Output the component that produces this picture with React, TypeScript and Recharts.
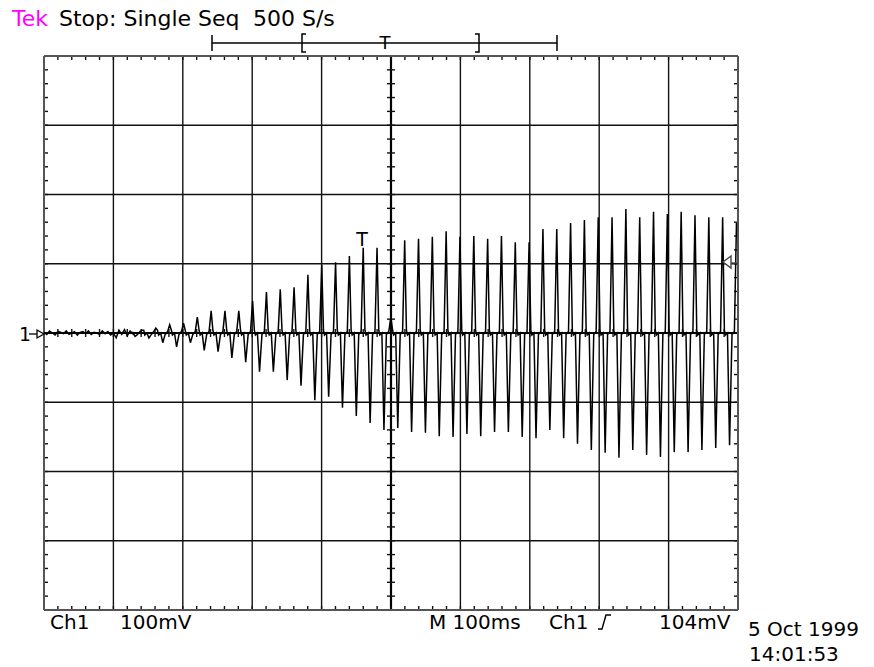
import React from 'react';
import { LineChart, Line, XAxis, YAxis, ReferenceLine } from 'recharts';

// ---- data ----
// time axis: 0..1000 ms (M 100ms/div, 10 div); vertical: mV (Ch1 100mV/div, 8 div)
const X_DIV_TICKS = [0, 100, 200, 300, 400, 500, 600, 700, 800, 900, 1000];
const Y_DIV_TICKS = [-400, -300, -200, -100, 0, 100, 200, 300, 400];

// baseline noise before the pulse train, one value every NOISE_STEP_MS
const NOISE_STEP_MS = 4;
const NOISE_MV = [1, -2, 3, 0, -3, 2, 1, -1, 3, -2, 0, 2, -3, 1, 2, -1, 3, -2, 1, 0, -2, 3, -1, 2, -3, 0, -7, 4, -2, 5, -4, 3, -1];

// pulse train: positive spike at FIRST_PULSE_MS + k*PERIOD_MS, negative spike half a period earlier
const FIRST_PULSE_MS = 201;
const PERIOD_MS = 19.92;
const FIRST_PULSE_INDEX = -3;
const POS_PEAKS_MV = [4, 7, 12, 14, 23, 32, 32, 32, 46, 59, 63, 66, 84, 98, 102, 111, 123, 123, 23, 134, 136, 139, 147, 139, 140, 136, 140, 131, 131, 150, 150, 159, 163, 167, 167, 179, 167, 175, 172, 175, 170, 167, 167, 159];
const NEG_PEAKS_MV = [-5, -7, -14, -20, -14, -25, -27, -36, -42, -56, -56, -68, -76, -97, -92, -108, -120, -130, -140, -137, -143, -144, -149, -150, -146, -149, -143, -143, -150, -152, -140, -152, -160, -169, -173, -180, -169, -176, -179, -172, -172, -169, -166, -162];

// ---- build the trace ----
type Pt = { t: number; v: number };
const points: Pt[] = [];
NOISE_MV.forEach((v, i) => points.push({ t: i * NOISE_STEP_MS, v }));
POS_PEAKS_MV.forEach((pos, i) => {
  const tP = FIRST_PULSE_MS + (i + FIRST_PULSE_INDEX) * PERIOD_MS;
  const tT = tP - PERIOD_MS / 2;
  const neg = NEG_PEAKS_MV[i];
  const seq: Pt[] = [
    { t: tT - 3, v: 0 },
    { t: tT, v: neg },
    { t: tT + 3.5, v: -2 },
    { t: tP - 3, v: 2 },
    { t: tP, v: pos },
    { t: tP + 2.5, v: 4 },
    { t: tP + 4, v: -3 },
  ];
  seq.forEach((p) => {
    if (p.t <= 999) points.push(p);
  });
});

// minor tick positions (0.2 div)
const MINOR_X: number[] = [];
for (let t = 20; t < 1000; t += 20) MINOR_X.push(t);
const MINOR_Y: number[] = [];
for (let v = -380; v < 400; v += 20) MINOR_Y.push(v);

const FONT = '"DejaVu Sans", "Noto Sans", sans-serif';
const GRID = '#111';
const BORDER = '#555';
const TICK_MS = 5.8; // ~4px
const TICK_MV = 5.8; // ~4px

export default function App() {
  return (
    <div style={{ position: 'absolute', left: 0, top: 0, width: 874, height: 667, background: '#fff' }}>
      <LineChart width={874} height={667} data={points} margin={{ top: 56, right: 136, bottom: 57, left: 44 }}>
        <XAxis type="number" dataKey="t" domain={[0, 1000]} hide allowDataOverflow />
        <YAxis type="number" domain={[-400, 400]} hide allowDataOverflow />
        {X_DIV_TICKS.filter((t) => t > 0 && t < 1000 && t !== 500).map((t) => (
          <ReferenceLine key={'gx' + t} x={t} stroke={GRID} strokeWidth={1.4} />
        ))}
        {Y_DIV_TICKS.filter((v) => v > -400 && v < 400 && v !== 0).map((v) => (
          <ReferenceLine key={'gy' + v} y={v} stroke={GRID} strokeWidth={1.4} />
        ))}
        <ReferenceLine x={500} stroke="#000" strokeWidth={2.2} />
        <ReferenceLine y={0} stroke="#000" strokeWidth={2.2} />
        {MINOR_X.map((t) => (
          <ReferenceLine key={'tt' + t} segment={[{ x: t, y: 400 }, { x: t, y: 400 - TICK_MV }]} stroke={GRID} strokeWidth={1.4} />
        ))}
        {MINOR_X.map((t) => (
          <ReferenceLine key={'tb' + t} segment={[{ x: t, y: -400 }, { x: t, y: -400 + TICK_MV }]} stroke={GRID} strokeWidth={1.4} />
        ))}
        {MINOR_X.map((t) => (
          <ReferenceLine key={'tc' + t} segment={[{ x: t, y: -TICK_MV }, { x: t, y: TICK_MV }]} stroke={GRID} strokeWidth={1.4} />
        ))}
        {MINOR_Y.map((v) => (
          <ReferenceLine key={'tl' + v} segment={[{ x: 0, y: v }, { x: TICK_MS, y: v }]} stroke={GRID} strokeWidth={1.4} />
        ))}
        {MINOR_Y.map((v) => (
          <ReferenceLine key={'tr' + v} segment={[{ x: 1000, y: v }, { x: 1000 - TICK_MS, y: v }]} stroke={GRID} strokeWidth={1.4} />
        ))}
        {MINOR_Y.map((v) => (
          <ReferenceLine key={'tm' + v} segment={[{ x: 500 - TICK_MS, y: v }, { x: 500 + TICK_MS, y: v }]} stroke={GRID} strokeWidth={1.4} />
        ))}
        <ReferenceLine x={0} stroke={BORDER} strokeWidth={2} />
        <ReferenceLine x={1000} stroke={BORDER} strokeWidth={2} />
        <ReferenceLine y={400} stroke={BORDER} strokeWidth={2} />
        <ReferenceLine y={-400} stroke={BORDER} strokeWidth={2} />
        <Line
          type="linear"
          dataKey="v"
          stroke="#000"
          strokeWidth={1.5}
          dot={false}
          activeDot={false}
          isAnimationActive={false}
        />
      </LineChart>
      <svg
        width={874}
        height={667}
        style={{ position: 'absolute', left: 0, top: 0, pointerEvents: 'none' }}
        fontFamily={FONT}
      >
        <text x={12} y={26} fontSize={22} fill="#ff00ff">Tek</text>
        <text x={59} y={26} fontSize={22} fill="#000">Stop: Single Seq</text>
        <text x={253} y={26} fontSize={22} fill="#000">500 S/s</text>

        {/* record position bar */}
        <g stroke="#000" strokeWidth={1.5} fill="none">
          <path d="M212 43 H557" />
          <path d="M212 35 V51 M557 35 V51" />
          <path d="M306 34 H302 V52 H306" />
          <path d="M475 34 H479 V52 H475" />
        </g>
        <text x={385} y={49} fontSize={18} fill="#000" textAnchor="middle">T</text>

        {/* trigger position marker */}
        <text x={362} y={246} fontSize={19} fill="#000" textAnchor="middle">T</text>

        {/* channel 1 ground marker */}
        <text x={19} y={341} fontSize={19} fill="#000">1</text>
        <g stroke="#000" strokeWidth={1.3} fill="#fff">
          <path d="M29 334 H38" />
          <path d="M37 330 L44 334 L37 338 Z" />
        </g>

        {/* trigger level marker */}
        <g stroke="#444" strokeWidth={1.4} fill="#fff">
          <path d="M731 263 H738" />
          <path d="M731 256 L723 262 L731 268 Z" />
        </g>

        {/* bottom readouts */}
        <text x={50} y={629} fontSize={20} fill="#000">Ch1</text>
        <text x={120} y={629} fontSize={20} fill="#000">100mV</text>
        <text x={429} y={629} fontSize={20} fill="#000">M 100ms</text>
        <text x={549} y={629} fontSize={20} fill="#000">Ch1</text>
        <path d="M598 629 H602 L606 615 H611" stroke="#000" strokeWidth={1.4} fill="none" />
        <text x={659} y={629} fontSize={20} fill="#000">104mV</text>
        <text x={748} y={636} fontSize={20} fill="#000">5 Oct 1999</text>
        <text x={749} y={661} fontSize={20} fill="#000">14:01:53</text>
      </svg>
    </div>
  );
}
